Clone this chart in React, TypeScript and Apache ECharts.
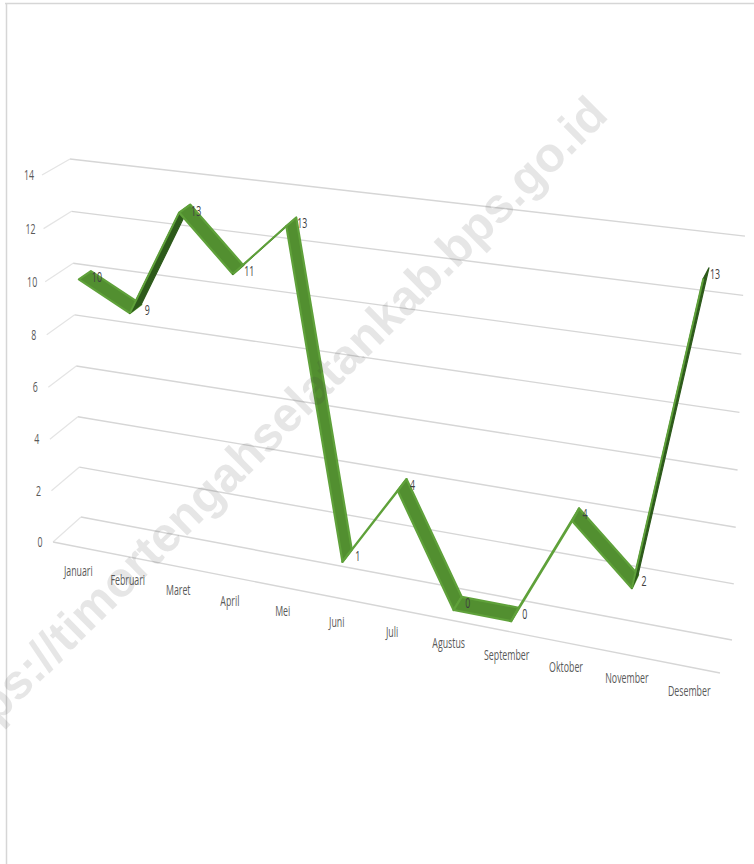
import React, { useEffect, useRef } from "react";
import * as echarts from "echarts";

const categories = ["Januari","Februari","Maret","April","Mei","Juni","Juli","Agustus","September","Oktober","November","Desember"];
const values = [10, 9, 13, 11, 13, 1, 4, 0, 0, 4, 2, 13];
const yTicks = [0, 2, 4, 6, 8, 10, 12, 14];
const WATERMARK = "https://timortengahselatankab.bps.go.id";
const FONT = "'Open Sans', sans-serif";

const VMAX = 14;
const K = 1.15;
const D_BACK = 0.24;
const D_FRONT = 0.68;
const TEXT_SCALE = 0.63;

// Perspective view of the flat plot: t along the categories, v up the value axis, d towards the viewer.
function project(t: number, v: number, d: number): [number, number] {
  const tau = t / (t + (1 - t) * K);
  const lx = 81 - (11 * v) / VMAX;
  const ly = 517 - 24.86 * v - 0.051 * v * v;
  const rx = 732 + (13 * v) / VMAX;
  const ry = 640 - 27.94 * v - 0.065 * v * v;
  const bx = lx + (rx - lx) * tau;
  const by = ly + (ry - ly) * tau;
  const dx = -28 + 16 * tau;
  const dy = 25 + 8 * tau - (9 * v) / VMAX;
  return [bx + dx * d, by + dy * d];
}
function toTV(p: number[], cs: any): [number, number] {
  return [(p[0] - cs.x) / cs.width, ((cs.y + cs.height - p[1]) / cs.height) * VMAX];
}

export default function App() {
  const ref = useRef<HTMLDivElement>(null);
  useEffect(() => {
    document.body.style.margin = "0";
    const chart = echarts.init(ref.current!, undefined, { renderer: "svg" });
    chart.setOption({
      animation: false,
      backgroundColor: "#ffffff",
      grid: { left: 100, top: 100, width: 600, height: 600 },
      xAxis: { type: "category", data: categories, show: false },
      yAxis: { type: "value", min: 0, max: VMAX, interval: 2, show: false },
      graphic: [
        { type: "line", z: 1, shape: { x1: 5, y1: 3.5, x2: 754, y2: 3.5 }, style: { stroke: "#d6d6d6", lineWidth: 1.5 } },
        { type: "line", z: 1, shape: { x1: 6.5, y1: 3, x2: 6.5, y2: 864 }, style: { stroke: "#d6d6d6", lineWidth: 1.5 } },
        {
          type: "text", z: 100, x: 598, y: 105, rotation: Math.PI / 4 - 0.005,
          style: {
            text: WATERMARK, fill: "rgba(60,60,60,0.13)", fontSize: 48.7, fontWeight: "bold",
            fontFamily: "'Liberation Sans', Arial, sans-serif", textAlign: "right", textVerticalAlign: "middle",
          },
        },
      ],
      series: [
        {
          type: "custom", clip: false, z: 2,
          data: yTicks.map((v) => [0, v]),
          encode: { x: 0, y: 1 },
          renderItem: (params: any, api: any) => {
            const val = api.value(1);
            const [, v] = toTV(api.coord([0, val]), params.coordSys);
            const a = project(0, v, 1);
            const b = project(0, v, 0);
            const c = project(1, v, 0);
            const children: any[] = [
              { type: "line", shape: { x1: a[0], y1: a[1], x2: b[0], y2: b[1] }, style: { stroke: "#e4e4e4", lineWidth: 1.2 } },
              { type: "line", shape: { x1: b[0], y1: b[1], x2: c[0], y2: c[1] }, style: { stroke: "#d6d6d6", lineWidth: 1.4 } },
              {
                type: "text", x: a[0] - 13, y: a[1] - 1, scaleX: TEXT_SCALE,
                style: { text: String(val), fill: "#595959", fontSize: 14, fontFamily: FONT, textAlign: "center", textVerticalAlign: "middle" },
              },
            ];
            if (val === 0) {
              const e = project(1, v, 1);
              children.push({ type: "line", shape: { x1: a[0], y1: a[1], x2: e[0], y2: e[1] }, style: { stroke: "#d6d6d6", lineWidth: 1.4 } });
            }
            return { type: "group", children };
          },
        },
        {
          type: "custom", clip: false, z: 3,
          data: categories.map((_, i) => [i, 0]),
          encode: { x: 0, y: 1 },
          renderItem: (params: any, api: any) => {
            const i = api.value(0);
            const [t, v] = toTV(api.coord([i, 0]), params.coordSys);
            const p = project(t, v, 1);
            return {
              type: "text", x: p[0] + 1, y: p[1] + 23, scaleX: TEXT_SCALE,
              style: { text: categories[i], fill: "#595959", fontSize: 14, fontFamily: FONT, textAlign: "center", textVerticalAlign: "middle" },
            };
          },
        },
        {
          type: "custom", clip: false, z: 4,
          data: values.slice(0, -1).map((v, i) => [i, v, values[i + 1]]),
          encode: { x: 0, y: 1 },
          renderItem: (params: any, api: any) => {
            const i = api.value(0);
            const [t0, v0] = toTV(api.coord([i, api.value(1)]), params.coordSys);
            const [t1, v1] = toTV(api.coord([i + 1, api.value(2)]), params.coordSys);
            const a = project(t0, v0, D_BACK);
            const b = project(t1, v1, D_BACK);
            const c = project(t1, v1, D_FRONT);
            const e = project(t0, v0, D_FRONT);
            const cross = (b[0] - a[0]) * (e[1] - a[1]) - (b[1] - a[1]) * (e[0] - a[0]);
            const under = cross < 0;
            const children: any[] = [
              {
                type: "polygon", shape: { points: [a, b, c, e] },
                style: { fill: under ? "#2d5a1b" : "#528f30", stroke: under ? "#2d5a1b" : "#5fa13a", lineWidth: under ? 1.2 : 2.2, lineJoin: "round" },
              },
            ];
            if (under) {
              children.push({ type: "line", shape: { x1: e[0], y1: e[1], x2: c[0], y2: c[1] }, style: { stroke: "#5fa13a", lineWidth: 2 } });
            }
            return { type: "group", children };
          },
        },
        {
          type: "custom", clip: false, z: 5,
          data: values.map((v, i) => [i, v]),
          encode: { x: 0, y: 1 },
          renderItem: (params: any, api: any) => {
            const i = api.value(0);
            const val = api.value(1);
            const [t, v] = toTV(api.coord([i, val]), params.coordSys);
            const p = project(t, v, D_BACK);
            return {
              type: "text", x: p[0] + 6, y: p[1] + 5, scaleX: TEXT_SCALE,
              style: { text: String(val), fill: "#404040", fontSize: 14, fontFamily: FONT, textAlign: "center", textVerticalAlign: "middle" },
            };
          },
        },
      ],
    });
    return () => chart.dispose();
  }, []);
  return <div ref={ref} style={{ width: 754, height: 864 }} />;
}
